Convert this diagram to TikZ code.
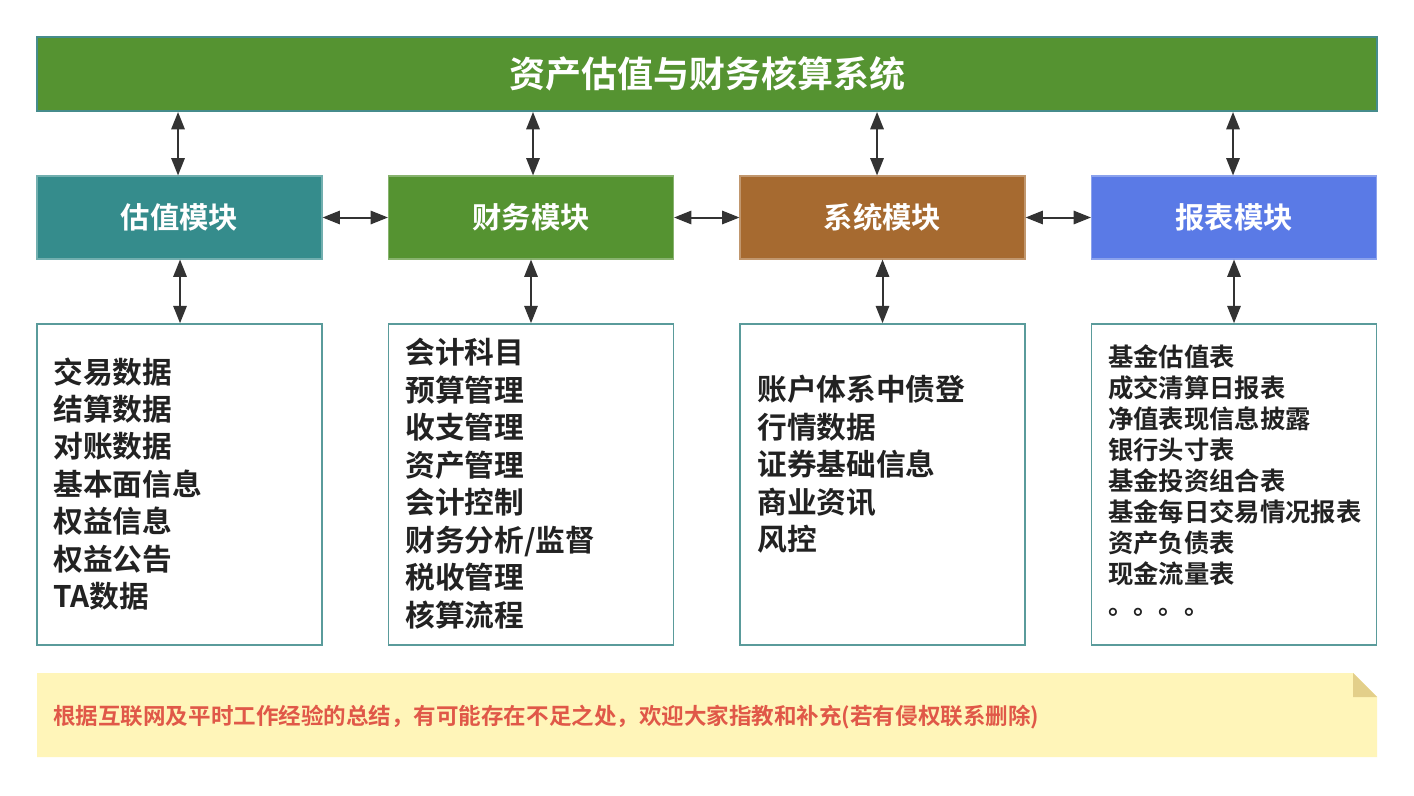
\documentclass[tikz,border=0pt]{standalone}
\usepackage{fontspec}
\setmainfont{Noto Sans CJK SC}[BoldFont={Noto Sans CJK SC Bold}]
\usetikzlibrary{arrows.meta}
\definecolor{tgreen}{HTML}{559331}
\definecolor{tteal}{HTML}{358C8C}
\definecolor{tbrown}{HTML}{A66A30}
\definecolor{tblue}{HTML}{5A7AE6}
\definecolor{tborder}{HTML}{468C8C}
\definecolor{lborder}{HTML}{5A9B9B}
\definecolor{noteyel}{HTML}{FFF5B9}
\definecolor{notecorner}{HTML}{E3CF8A}
\definecolor{notered}{HTML}{E05848}
\definecolor{arrowc}{HTML}{333333}
\definecolor{listtxt}{HTML}{222222}
\begin{document}
\begin{tikzpicture}[x=0.75pt,y=-0.75pt,
  titlebox/.style={draw=tborder,line width=1.5pt,fill=tgreen,minimum width=1005pt,minimum height=55.5pt,inner sep=0pt,text=white,font=\fontsize{27pt}{30pt}\selectfont\bfseries},
  modbox/.style={fill=#1,draw=#1!70!white,line width=0.8pt,minimum width=213.75pt,minimum height=62.25pt,inner sep=0pt,text=white,font=\fontsize{22pt}{26pt}\selectfont\bfseries},
  listbox/.style={draw=lborder,line width=1.2pt,fill=white,minimum width=213.75pt,minimum height=240.75pt,inner sep=0pt},
  listtext/.style={anchor=west,inner sep=0pt,align=left,text=listtxt},
  biarrow/.style={draw=arrowc,line width=1.5pt,{Triangle[length=13pt,width=10pt]}-{Triangle[length=13pt,width=10pt]}}
]
\useasboundingbox (0,0) rectangle (1414,796);
\fill[white] (0,0) rectangle (1414,796);

% title
\node[titlebox] (title) at (707,74) {资产估值与财务核算系统};

% modules
\node[modbox=tteal] (m1) at (179.5,217.5) {估值模块};
\node[modbox=tgreen] (m2) at (531,217.5) {财务模块};
\node[modbox=tbrown] (m3) at (882.5,217.5) {系统模块};
\node[modbox=tblue] (m4) at (1234,217.5) {报表模块};

% list boxes
\node[listbox] (l1) at (179.5,484.5) {};
\node[listbox] (l2) at (531,484.5) {};
\node[listbox] (l3) at (882.5,484.5) {};
\node[listbox] (l4) at (1234,484.5) {};

\node[listtext,font=\fontsize{22.3pt}{28.1pt}\selectfont\bfseries] (t1) at (53,484)
  {交易数据\\结算数据\\对账数据\\基本面信息\\权益信息\\权益公告\\TA数据};
\node[listtext,font=\fontsize{22.3pt}{28.1pt}\selectfont\bfseries] (t2) at (405,483.5)
  {会计科目\\预算管理\\收支管理\\资产管理\\会计控制\\财务分析/监督\\税收管理\\核算流程};
\node[listtext,font=\fontsize{22.3pt}{28.1pt}\selectfont\bfseries] (t3) at (757,464.5)
  {账户体系中债登\\行情数据\\证券基础信息\\商业资讯\\风控};
\node[listtext,font=\fontsize{19pt}{23.25pt}\selectfont\bfseries] (t4) at (1108,481)
  {基金估值表\\成交清算日报表\\净值表现信息披露\\银行头寸表\\基金投资组合表\\基金每日交易情况报表\\资产负债表\\现金流量表\\。。。。};

% arrow attachment points
\coordinate (a1) at ([xshift=-1.1pt]m1.north);
\coordinate (a2) at ([xshift=1.5pt]m2.north);
\coordinate (a3) at ([xshift=-4.1pt]m3.north);
\coordinate (a4) at ([xshift=-0.75pt]m4.north);
\coordinate (b1) at ([xshift=0.4pt]m1.south);
\coordinate (c1) at ([xshift=0.4pt]l1.north);

% arrows title-modules
\foreach \a in {a1,a2,a3,a4}{
  \draw[biarrow] (title.south -| \a) -- (\a);
}
% arrows between modules
\draw[biarrow] (m1.east) -- (m2.west);
\draw[biarrow] (m2.east) -- (m3.west);
\draw[biarrow] (m3.east) -- (m4.west);
% arrows module-list
\draw[biarrow] (b1) -- (c1);
\draw[biarrow] (m2.south) -- (l2.north);
\draw[biarrow] (m3.south) -- (l3.north);
\draw[biarrow] (m4.south) -- (l4.north);

% note
\fill[noteyel] (37,673) -- (1353,673) -- (1377,697) -- (1377,757) -- (37,757) -- cycle;
\fill[notecorner] (1353,673) -- (1353,697) -- (1377,697) -- cycle;
\node[anchor=west,inner sep=0pt,text=notered,font=\fontsize{16.9pt}{20pt}\selectfont\bfseries] (note) at (53,717)
  {根据互联网及平时工作经验的总结，有可能存在不足之处，欢迎大家指教和补充(若有侵权联系删除)};
\end{tikzpicture}
\end{document}
